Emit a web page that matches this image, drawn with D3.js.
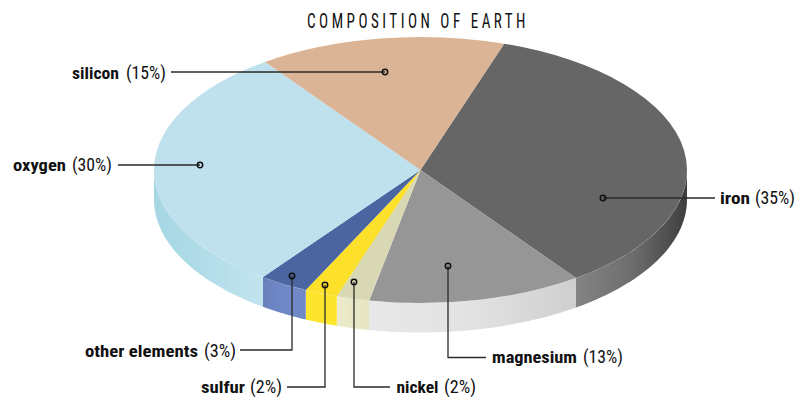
<!DOCTYPE html>
<html>
<head>
<meta charset="utf-8">
<script src="https://d3js.org/d3.v7.min.js"></script>
<style>
  html, body { margin: 0; padding: 0; background: #fff; }
  text { font-family: "Liberation Sans Narrow", "Roboto Condensed", "Liberation Sans", sans-serif; fill: #111; }
</style>
</head>
<body>
<div id="chart"></div>
<script>
// chart data
var names = ["iron", "magnesium", "nickel", "sulfur", "other elements", "oxygen", "silicon"];
var percents = [35, 13, 2, 2, 3, 30, 15];
var topColors = ["#666666", "#969696", "#d9d8b4", "#fde029", "#4a659f", "#bfe0ed", "#dab494"];
var sideColors = [
  ["#838383", "#6e6e6e", "#3e3e3e"],
  ["#e8e8e8", "#e2e2e2", "#cfcfcf"],
  ["#ecebcb", "#e9e8c6", "#e6e5c0"],
  ["#fde52e", "#fde52e", "#fde52e"],
  ["#6980bd", "#7089c6", "#7089c6"],
  ["#a6d6e3", "#b2dde9", "#c2e4ef"],
  ["#dab494", "#dab494", "#dab494"]
];

var width = 799, height = 400;
var cx = 420.5, cy = 170, rx = 266.5, ry = 133, depth = 29.5;
var startDeg = 18.3;

var svg = d3.select("#chart").append("svg")
    .attr("width", width)
    .attr("height", height)
    .style("display", "block");

var slices = d3.pie().sort(null)
    .startAngle(startDeg * Math.PI / 180)
    .endAngle((startDeg + 360) * Math.PI / 180)(percents);

var arc = d3.arc().innerRadius(0).outerRadius(rx);

function px(a) { return cx + rx * Math.sin(a); }
function py(a) { return cy - ry * Math.cos(a); }

// side wall, only the part of each slice that faces the viewer
var defs = svg.append("defs");
var side = svg.append("g");
slices.forEach(function(d, i) {
  var a0 = Math.max(d.startAngle, Math.PI / 2);
  var a1 = Math.min(d.endAngle, Math.PI * 1.5);
  if (a1 <= a0) return;
  var steps = d3.range(0, 41).map(function(k) { return a0 + (a1 - a0) * k / 40; });
  var upper = steps.map(function(a) { return [px(a), py(a)]; });
  var lower = steps.slice().reverse().map(function(a) { return [px(a), py(a) + depth]; });
  var xs = upper.map(function(p) { return p[0]; });
  // gradient runs left to right across the slice's own wall
  var grad = defs.append("linearGradient")
      .attr("id", "side" + i)
      .attr("gradientUnits", "userSpaceOnUse")
      .attr("x1", d3.min(xs)).attr("x2", d3.max(xs))
      .attr("y1", 0).attr("y2", 0);
  var stops = sideColors[i];
  stops.forEach(function(c, k) {
    grad.append("stop").attr("offset", k / (stops.length - 1)).attr("stop-color", c);
  });
  side.append("path")
      .attr("d", d3.line()(upper.concat(lower)) + "Z")
      .attr("fill", "url(#side" + i + ")");
});

// top of the pie
svg.append("g")
    .attr("transform", "translate(" + cx + "," + cy + ") scale(1," + (ry / rx) + ")")
  .selectAll("path")
  .data(slices)
  .enter()
  .append("path")
    .attr("d", arc)
    .attr("fill", function(d, i) { return topColors[i]; });

// title, squeezed sideways to get the tall narrow letters
svg.append("text")
    .attr("transform", "translate(307,27.5) scale(0.72,1)")
    .style("font-size", "21px")
    .style("letter-spacing", "4.85px")
    .text("COMPOSITION OF EARTH");

// leaders: ring on the slice, elbow, then the label
var dots = [[603, 198], [448, 266], [354, 282], [325, 285], [292, 276], [200, 165], [385, 72]];
var elbows = [null, [448, 357.5], [354, 387], [325, 387], [292, 350], null, null];
var ends = [[715, 198], [486, 357.5], [390, 387], [287, 387], [240, 350], [118, 165], [171, 72]];

// label boxes: left edge, width of the name, left edge of the bracket, baseline
var nameX = [720, 492, 396.5, 201, 85, 13, 72];
var nameW = [30, 85, 42, 44, 113, 53, 47];
var pctX = [755, 583, 444, 250, 204, 72, 126];
var labelY = [204, 363, 393, 393, 357, 171, 79];

var leaders = svg.append("g");
names.forEach(function(name, i) {
  var pts = [dots[i]];
  if (elbows[i]) pts.push(elbows[i]);
  pts.push(ends[i]);
  leaders.append("path")
      .attr("d", d3.line()(pts))
      .attr("fill", "none")
      .attr("stroke", "#2a2a2a")
      .attr("stroke-width", 1.3);
  leaders.append("circle")
      .attr("cx", dots[i][0])
      .attr("cy", dots[i][1])
      .attr("r", 2.7)
      .attr("fill", "none")
      .attr("stroke", "#111")
      .attr("stroke-width", 1.5);

  leaders.append("text")
      .attr("x", nameX[i])
      .attr("y", labelY[i])
      .attr("textLength", nameW[i])
      .attr("lengthAdjust", "spacingAndGlyphs")
      .style("font-size", "17px")
      .style("font-weight", "bold")
      .text(name);
  leaders.append("text")
      .attr("x", pctX[i])
      .attr("y", labelY[i])
      .attr("textLength", percents[i] < 10 ? 32 : 40)
      .attr("lengthAdjust", "spacingAndGlyphs")
      .style("font-size", "19px")
      .style("font-weight", "normal")
      .text("(" + percents[i] + "%)");
});
</script>
</body>
</html>
